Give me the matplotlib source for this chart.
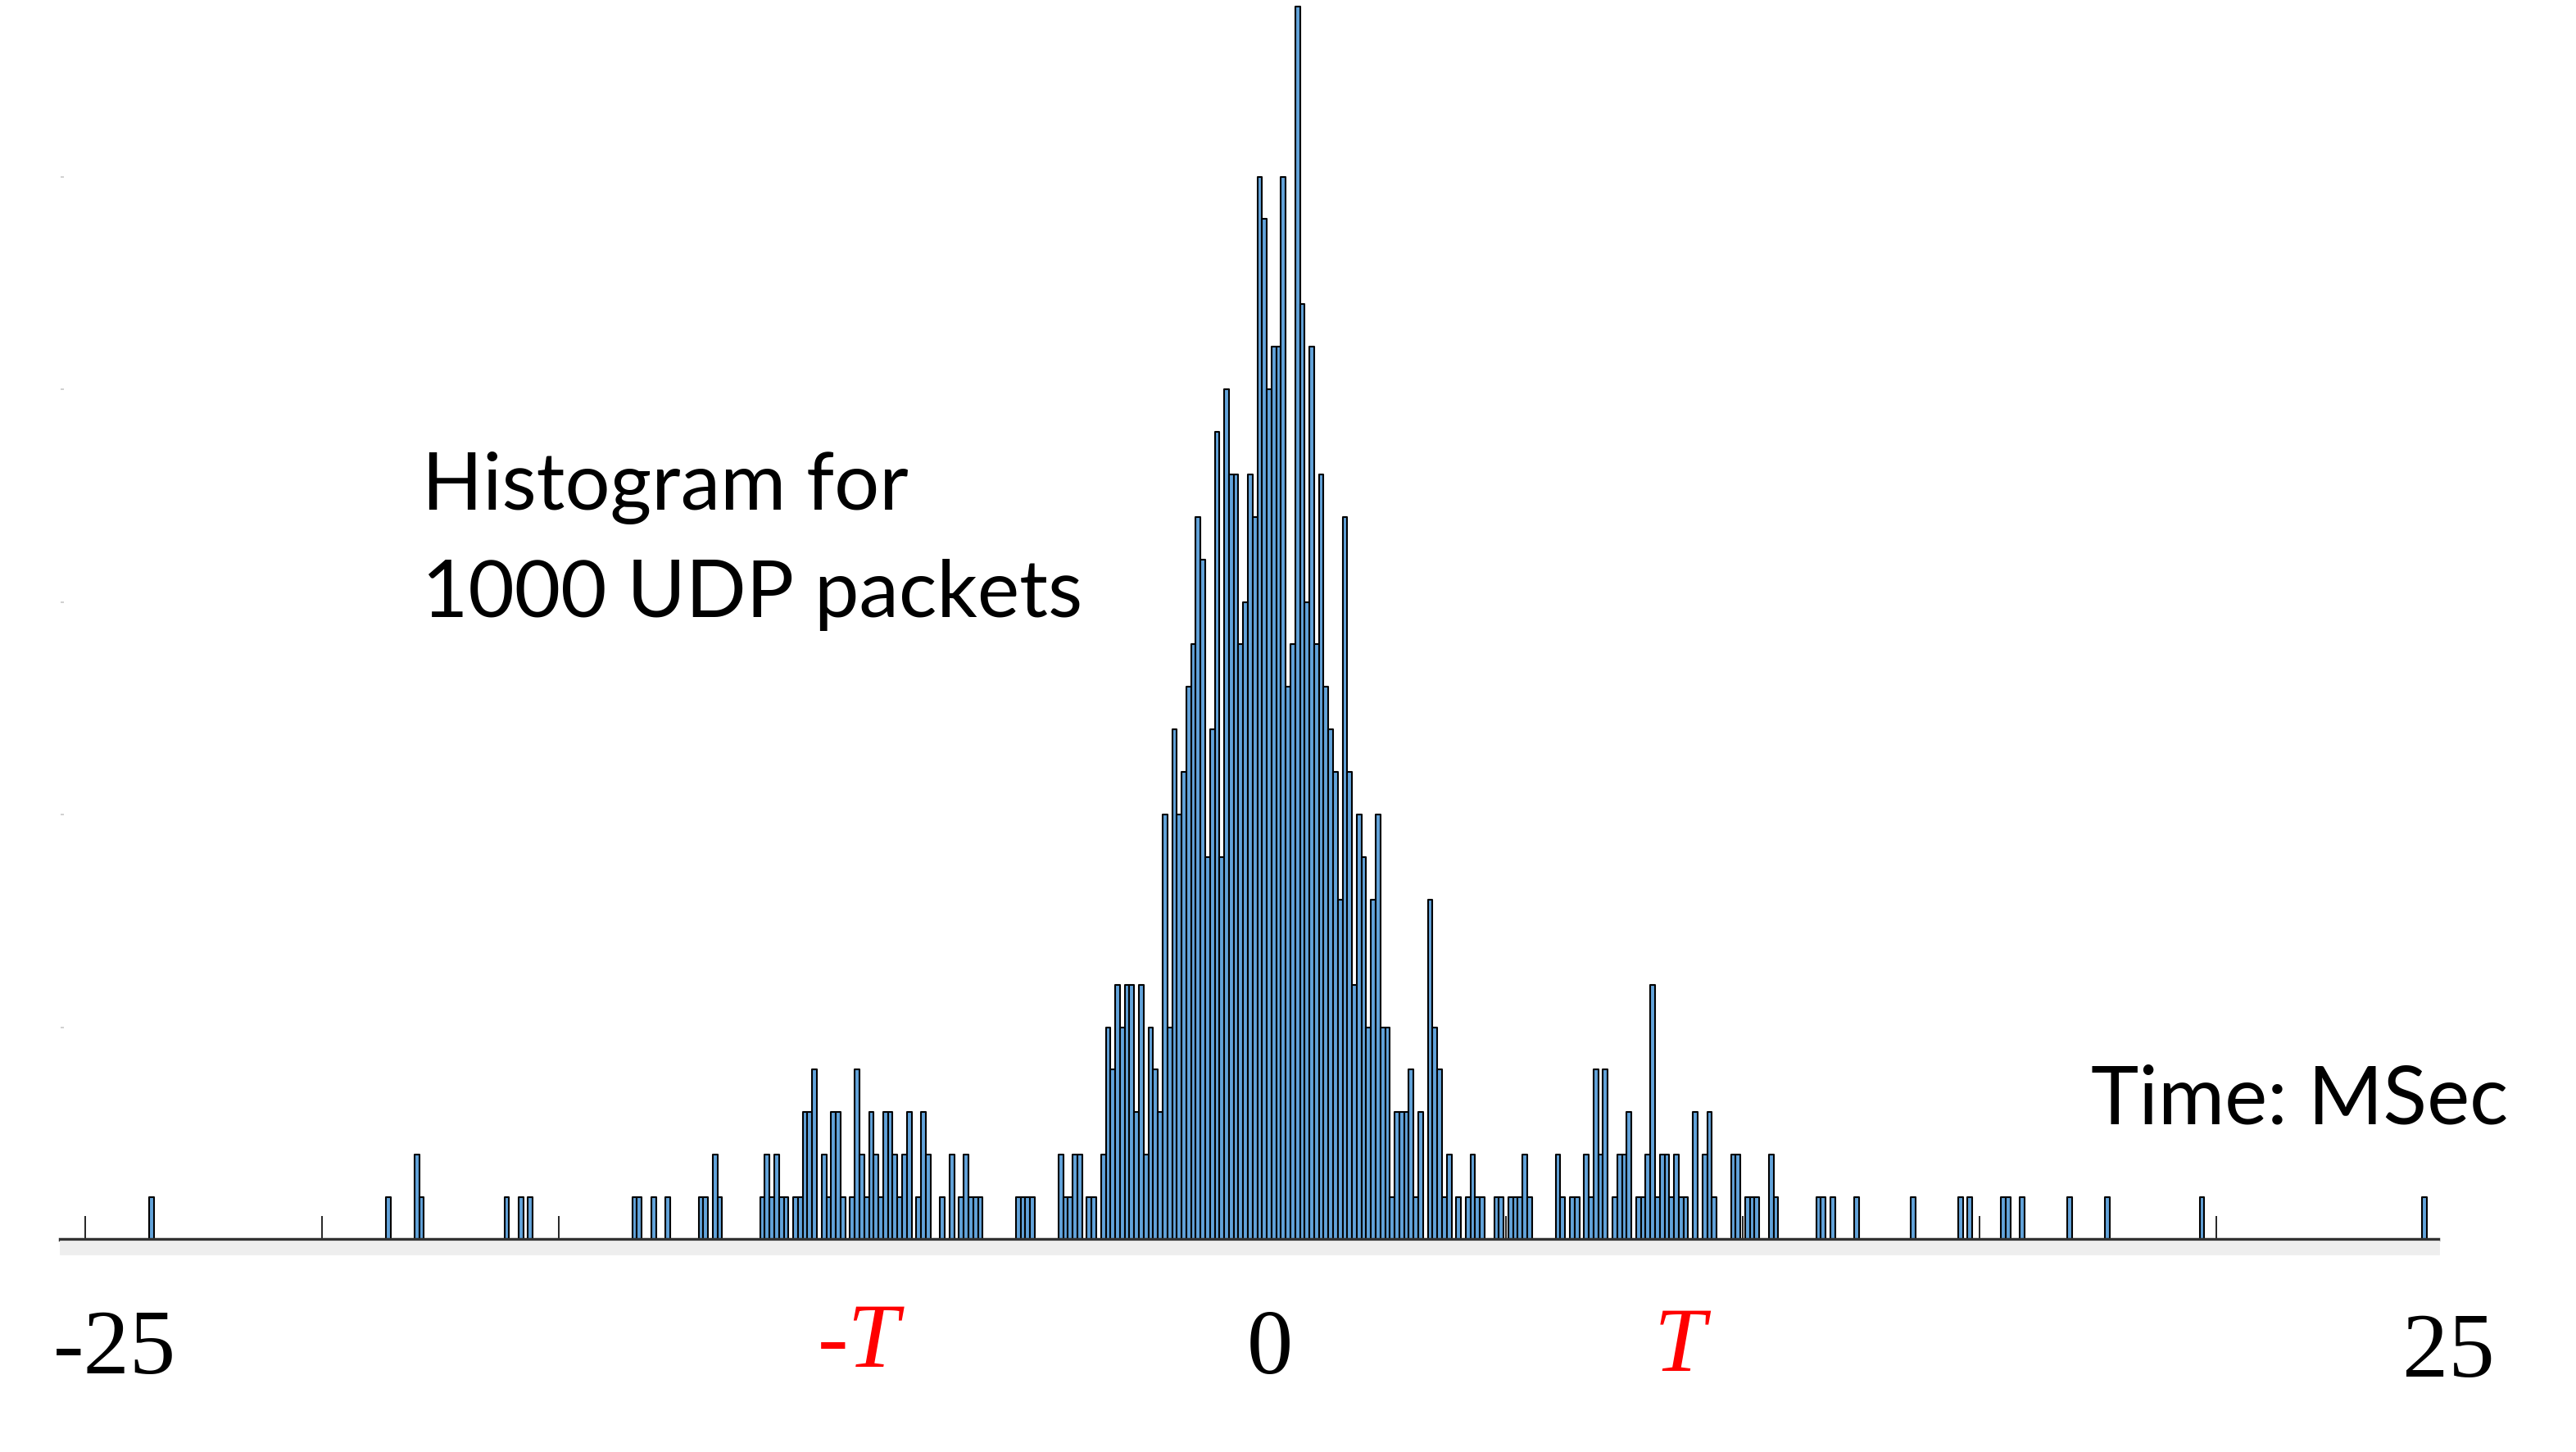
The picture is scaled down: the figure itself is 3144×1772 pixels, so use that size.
import matplotlib
matplotlib.use("Agg")
import matplotlib.pyplot as plt
import numpy as np
from matplotlib.patches import Rectangle

# Histograma de retardos de 1000 paquetes UDP (bins de 0.1 ms)
BIN_MS = 0.1

# cola izquierda: indice de bin (x 0.1 ms) y cuentas
left_bins = [-236, -186, -180, -179, -161, -158, -156, -134, -133, -130, -127,
             -120, -119, -117, -116,
             -107, -106, -105, -104, -103, -102,
             -100, -99, -98, -97, -96,
             -94, -93, -92, -91, -90,
             -88, -87, -86, -85, -84, -83, -82, -81, -80, -79, -78, -77, -76,
             -74, -73, -72,
             -69, -67, -65, -64, -63, -62, -61,
             -53, -52, -51, -50,
             -44, -43, -42, -41, -40,
             -38, -37]
left_counts = [1, 1, 2, 1, 1, 1, 1, 1, 1, 1, 1,
               1, 1, 2, 1,
               1, 2, 1, 2, 1, 1,
               1, 1, 3, 3, 4,
               2, 1, 3, 3, 1,
               1, 4, 2, 1, 3, 2, 1, 3, 3, 2, 1, 2, 3,
               1, 3, 2,
               1, 2, 1, 2, 1, 1, 1,
               1, 1, 1, 1,
               2, 1, 1, 2, 2,
               1, 1]

# bloque central continuo, bins -35 .. 45
centre_first_bin = -35
centre_counts = [2, 5, 4, 6, 5, 6, 6, 3, 6, 2,
                 5, 4, 3, 10, 5, 12, 10, 11, 13, 14,
                 17, 16, 9, 12, 19, 9, 20, 18, 18, 14,
                 15, 18, 17, 25, 24, 20, 21, 21, 25, 13,
                 14, 29, 22, 15, 21, 14, 18, 13, 12, 11,
                 8, 17, 11, 6, 10, 9, 5, 8, 10, 5,
                 5, 1, 3, 3, 3, 4, 1, 3, 0, 8,
                 5, 4, 1, 2, 0, 1, 0, 1, 2, 1, 1]

# cola derecha
right_bins = [48, 49, 51, 52, 53, 54, 55,
              61, 62, 64, 65, 67, 68, 69, 70, 71, 73,
              74, 75, 76, 78, 79, 80, 81, 82, 83, 84,
              85, 86, 87, 88, 90, 92, 93, 94, 98, 99,
              101, 102, 103, 106, 107, 116, 117, 119, 124, 136,
              146, 148, 155, 156, 159, 169, 177, 197, 244]
right_counts = [1, 1, 1, 1, 1, 2, 1,
                2, 1, 1, 1, 2, 1, 4, 2, 4, 1,
                2, 2, 3, 1, 1, 2, 6, 1, 2, 2,
                1, 2, 1, 1, 3, 2, 3, 1, 2, 2,
                1, 1, 1, 2, 1, 1, 1, 1, 1, 1,
                1, 1, 1, 1, 1, 1, 1, 1, 1]

axis_labels = ["-25", "-T", "0", "T", "25"]

centre_bins = np.arange(centre_first_bin, centre_first_bin + len(centre_counts))
bins = np.concatenate([left_bins, centre_bins, right_bins]) * BIN_MS
counts = np.concatenate([left_counts, centre_counts, right_counts])

W, H = 3144, 1772
fig = plt.figure(figsize=(W / 200, H / 200), dpi=200)
x0, x1, ybase = 74, 2976, 1513
ax = fig.add_axes([x0 / W, 1 - ybase / H, (x1 - x0) / W, ybase / H])
ax.set_xlim(-25.52, 24.69)
ax.set_ylim(0, ybase / 51.9)

barras = ax.bar(bins, counts, width=BIN_MS, color="#62a3da", edgecolor="black",
                linewidth=0.75, zorder=2)
for b in barras:
    b.set_joinstyle("round")

for s in ["top", "right", "left"]:
    ax.spines[s].set_visible(False)
ax.spines["bottom"].set_color("#333333")
ax.spines["bottom"].set_linewidth(1.6)
ax.set_axisbelow(True)

ax.set_xticks(range(-25, 25, 5))
ax.tick_params(axis="x", direction="in", length=10.4, width=0.6, color="black",
               labelbottom=False)
ax.set_yticks([5, 10, 15, 20, 25])
ax.tick_params(axis="y", direction="in", length=1.5, width=0.6, color="#c8c8c8",
               labelleft=False)

# banda gris bajo el eje
fig.patches.append(Rectangle((x0 / W, 1 - 1530 / H), (x1 - x0) / W, 15 / H,
                             transform=fig.transFigure, color="#eeeeee", zorder=0))

# etiquetas del eje x
pos = [(140, 1676, "black", "normal"), (1048, 1668, "red", "italic"),
       (1550, 1676, "black", "normal"), (2050, 1673, "red", "italic"),
       (2988, 1680, "black", "normal")]
for lab, (px, py, col, est) in zip(axis_labels, pos):
    fig.text(px / W, 1 - py / H, lab, ha="center", va="baseline", color=col,
             style=est, family="Liberation Serif", fontsize=40.5)

fig.text(515 / W, 1 - 622 / H, "Histogram for", ha="left", va="baseline",
         family="Lato", fontsize=35)
fig.text(515 / W, 1 - 753 / H, "1000 UDP packets", ha="left", va="baseline",
         family="Lato", fontsize=35)
fig.text(2552 / W, 1 - 1372 / H, "Time: MSec", ha="left", va="baseline",
         family="Lato", fontsize=35.5)

fig.savefig("out.png", dpi=200)
